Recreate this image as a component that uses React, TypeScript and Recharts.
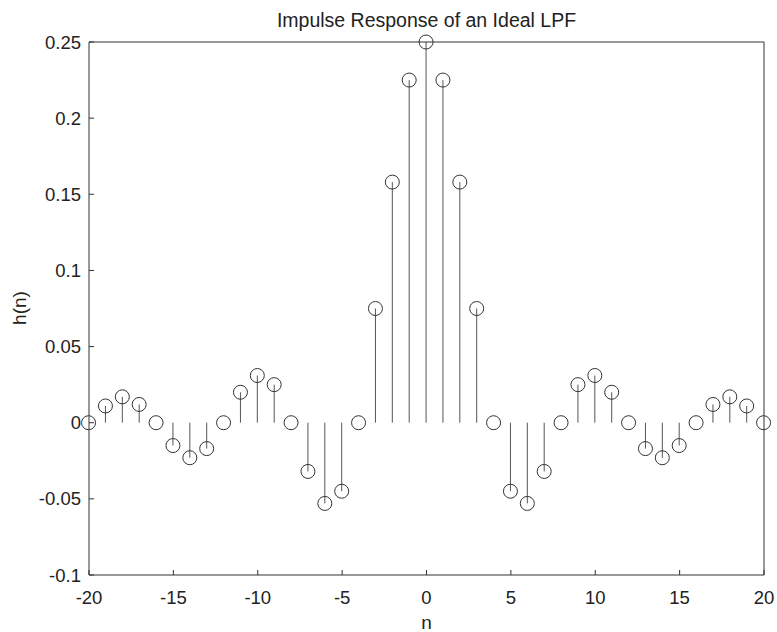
import React from 'react';
import { ComposedChart, Bar, XAxis, YAxis } from 'recharts';

// sample index n and the impulse response h(n)
const nValues = [
    -20, -19, -18, -17, -16, -15, -14, -13, -12, -11, -10, -9, -8, -7, -6, -5, -4, -3, -2, -1,
    0, 1, 2, 3, 4, 5, 6, 7, 8, 9, 10, 11, 12, 13, 14, 15, 16, 17, 18, 19, 20,
];
const hValues = [
    0, 0.011, 0.017, 0.012, 0, -0.015, -0.023, -0.017, 0, 0.02, 0.031, 0.025, 0, -0.032, -0.053, -0.045, 0, 0.075, 0.158, 0.225,
    0.25, 0.225, 0.158, 0.075, 0, -0.045, -0.053, -0.032, 0, 0.025, 0.031, 0.02, 0, -0.017, -0.023, -0.015, 0, 0.012, 0.017, 0.011, 0,
];
const xTicks = [-20, -15, -10, -5, 0, 5, 10, 15, 20];
const yTicks = [-0.1, -0.05, 0, 0.05, 0.1, 0.15, 0.2, 0.25];

const data = nValues.map((n, i) => ({ n, h: hValues[i] }));

const FONT = '"Liberation Sans", Arial, Helvetica, sans-serif';
const AXIS = '#333';
const TXT = '#222';

// stem: line from the value down/up to zero, open circle on the value
function Stem(props: any) {
    const { x, y, width, height } = props;
    if (x == null || y == null) return null;
    const cx = x + width / 2;
    return (
        <g>
            <line x1={cx} y1={y} x2={cx} y2={y + height} stroke="#555" strokeWidth={1} />
            <circle cx={cx} cy={y} r={7} fill="none" stroke="#333" strokeWidth={1} />
        </g>
    );
}

const fmtY = (v: number) => (v === 0 ? '0' : String(Number(v.toFixed(2))));

export default function App() {
    return (
        <div style={{ position: 'absolute', left: 0, top: 0, width: 777, height: 632, background: '#fff', fontFamily: FONT }}>
            <div
                style={{
                    position: 'absolute',
                    top: 8,
                    left: 89,
                    width: 675,
                    textAlign: 'center',
                    fontSize: 19.5,
                    lineHeight: '24px',
                    color: TXT,
                }}
            >
                Impulse Response of an Ideal LPF
            </div>
            <div
                style={{
                    position: 'absolute',
                    top: 611,
                    left: 89,
                    width: 675,
                    textAlign: 'center',
                    fontSize: 19,
                    lineHeight: '24px',
                    color: TXT,
                }}
            >
                n
            </div>
            <div
                style={{
                    position: 'absolute',
                    left: 20,
                    top: 308,
                    transform: 'translate(-50%, -50%) rotate(-90deg)',
                    fontSize: 19,
                    color: TXT,
                    whiteSpace: 'nowrap',
                }}
            >
                h(n)
            </div>
            <ComposedChart
                width={777}
                height={632}
                data={data}
                margin={{ top: 41, right: 0, bottom: 0, left: 0 }}
                style={{ position: 'absolute', left: 0, top: 0 }}
            >
                <XAxis
                    xAxisId="b"
                    dataKey="n"
                    type="number"
                    domain={[-20, 20]}
                    ticks={xTicks}
                    height={57}
                    padding={{ left: 0, right: 0 }}
                    stroke={AXIS}
                    tickSize={-5}
                    tickMargin={21}
                    tick={{ fill: TXT, fontSize: 18.5, fontFamily: FONT }}
                />
                <XAxis
                    xAxisId="t"
                    orientation="top"
                    dataKey="n"
                    type="number"
                    domain={[-20, 20]}
                    ticks={xTicks}
                    height={1}
                    padding={{ left: 0, right: 0 }}
                    stroke={AXIS}
                    tickSize={-5}
                    tick={false}
                />
                <YAxis
                    yAxisId="l"
                    type="number"
                    domain={[-0.1, 0.25]}
                    ticks={yTicks}
                    width={89}
                    stroke={AXIS}
                    tickSize={-5}
                    tickMargin={13}
                    tickFormatter={fmtY}
                    tick={{ fill: TXT, fontSize: 18.5, fontFamily: FONT }}
                />
                <YAxis
                    yAxisId="r"
                    orientation="right"
                    type="number"
                    domain={[-0.1, 0.25]}
                    ticks={yTicks}
                    width={13}
                    stroke={AXIS}
                    tickSize={-5}
                    tick={false}
                />
                <Bar
                    xAxisId="b"
                    yAxisId="l"
                    dataKey="h"
                    barSize={2}
                    shape={<Stem />}
                    isAnimationActive={false}
                />
                <Bar
                    xAxisId="t"
                    yAxisId="r"
                    dataKey="h"
                    barSize={2}
                    shape={() => <g />}
                    isAnimationActive={false}
                />
            </ComposedChart>
        </div>
    );
}
